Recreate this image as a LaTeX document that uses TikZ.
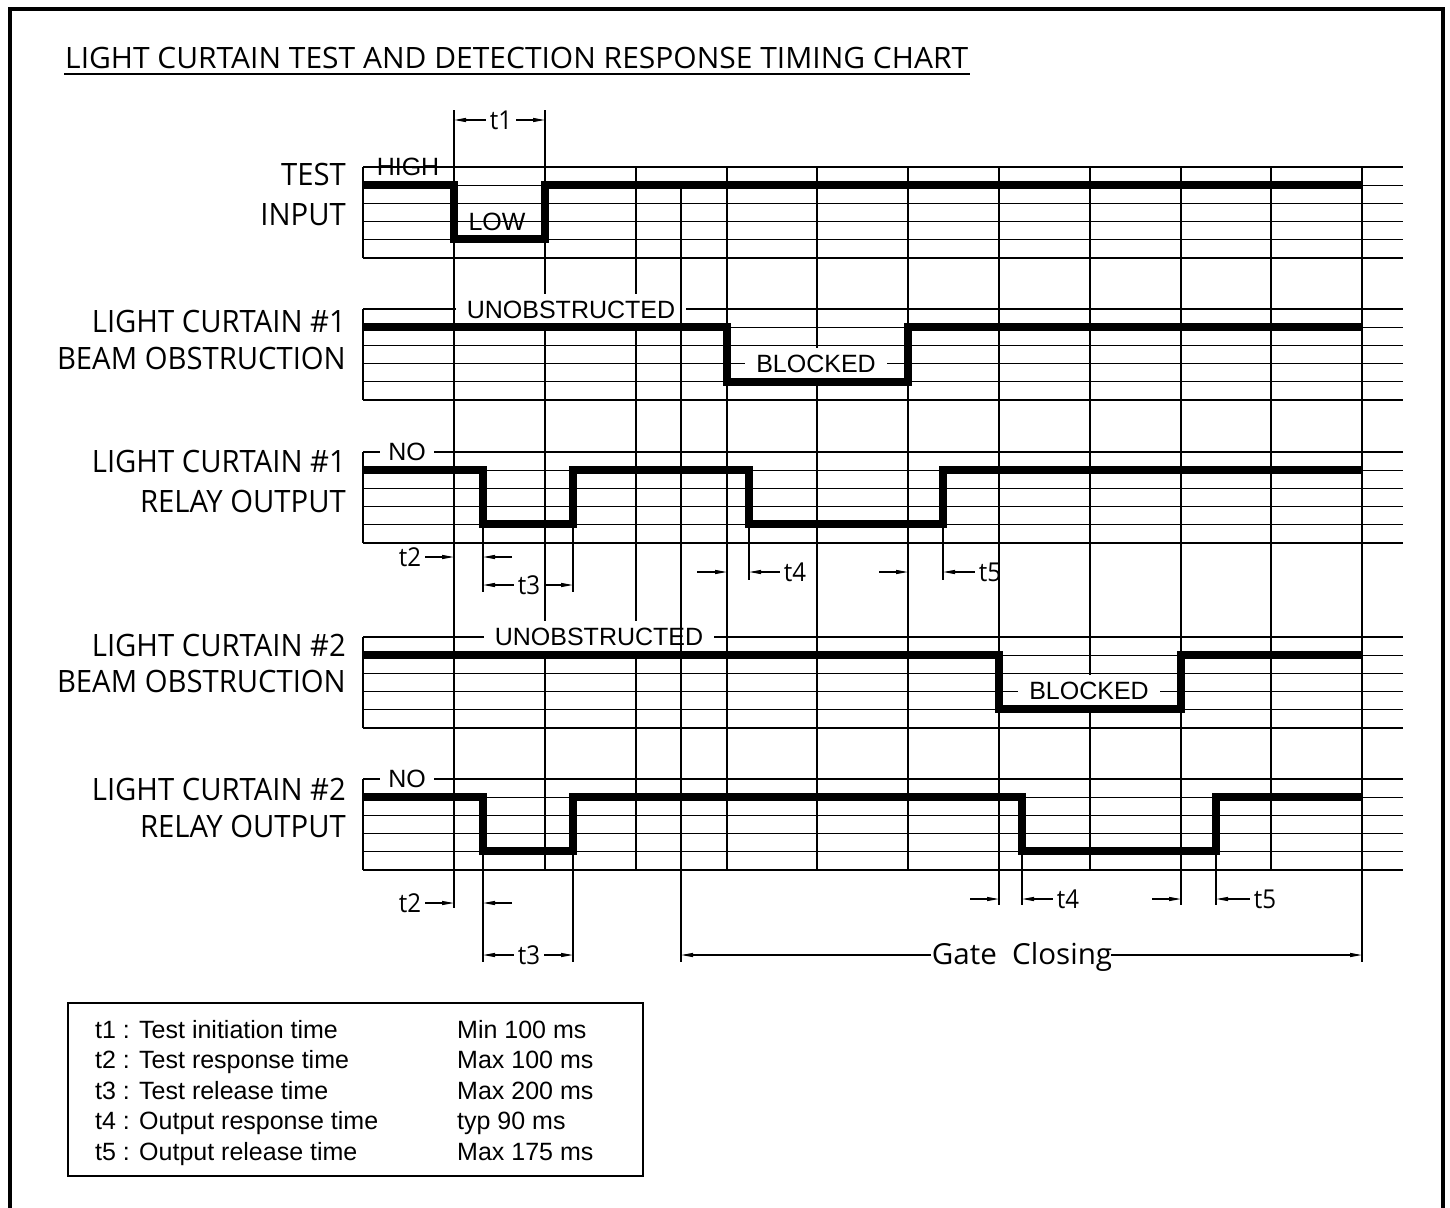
\documentclass[tikz,border=0pt]{standalone}
\usepackage{fontspec}
\setmainfont{Liberation Sans}
\newfontfamily\cadL[FakeStretch=0.95]{Open Sans}
\newfontfamily\cadN[FakeStretch=0.925]{Open Sans}
\newfontfamily\cadT[FakeStretch=1.02]{Open Sans}
\usetikzlibrary{arrows.meta}
\begin{document}
\begin{tikzpicture}[x=1pt,y=-1pt,
  gridl/.style={line width=1.2pt},
  extl/.style={line width=1.3pt},
  wave/.style={line width=7.5pt,line join=miter},
  arr/.style={line width=1.2pt,-{Triangle[length=12pt,width=4pt]}},
  sig/.style={font=\cadL\fontsize{30.8}{36}\selectfont,anchor=base east,inner sep=0pt},
  lev/.style={font=\fontsize{25}{29}\selectfont,inner sep=0pt},
  levbg/.style={lev,fill=white,inner xsep=11pt,inner ysep=7pt},
  tlab/.style={font=\cadN\fontsize{26}{30}\selectfont,inner xsep=4pt,inner ysep=0pt},
  leg/.style={font=\fontsize{25}{30}\selectfont,anchor=base west,inner sep=0pt},
]
\useasboundingbox (0,0) rectangle (1450,1207);

% event columns
\foreach \n in {454,483,545,573,681,727,749,908,943,999,1022,1181,1216,1362}{
  \coordinate (x\n) at (\n,0);
}

% outer frame
\draw[line width=4.5pt] (10,1220) -- (10,9) -- (1443,9) -- (1443,1220);

% title
\node[font=\cadT\fontsize{29.4}{34}\selectfont,anchor=base west,inner sep=0pt] (title) at (65,68) {LIGHT CURTAIN TEST AND DETECTION RESPONSE TIMING CHART};
\coordinate (ulA) at (64,74);
\coordinate (ulB) at (970,74);
\draw[line width=1.5pt] (ulA) -- (ulB);

% grids
\foreach \g in {167,309,452,637,779}{
  \foreach \i in {0,...,5}{
    \draw[gridl] (363,\g+\i*18.2) -- (1403,\g+\i*18.2);
  }
  \draw[gridl] (363,\g) -- (363,\g+91);
}
\foreach \x in {636,727,817,908,1090,1271}{
  \draw[gridl] (\x,167) -- (\x,870);
}
\draw[gridl] (545,110) -- (545,870);
\draw[gridl] (999,167) -- (999,905);
\draw[gridl] (1181,167) -- (1181,905);
\draw[gridl] (1362,167) -- (1362,962);

% signal names
\node[sig] (sTest) at (346,185) {TEST};
\node[sig] (sInput) at (346,225) {INPUT};
\node[sig] (sLC1a) at (346,332) {LIGHT CURTAIN \#1};
\node[sig] (sBeam1) at (346,369) {BEAM OBSTRUCTION};
\node[sig] (sLC1b) at (346,472) {LIGHT CURTAIN \#1};
\node[sig] (sRel1) at (346,512) {RELAY OUTPUT};
\node[sig] (sLC2a) at (346,656) {LIGHT CURTAIN \#2};
\node[sig] (sBeam2) at (346,692) {BEAM OBSTRUCTION};
\node[sig] (sLC2b) at (346,800) {LIGHT CURTAIN \#2};
\node[sig] (sRel2) at (346,837) {RELAY OUTPUT};

% level labels
\node[lev] (high) at (408,167) {HIGH};
\node[lev] (low) at (497,222) {LOW};
\node[levbg] (unob1) at (571,310) {UNOBSTRUCTED};
\node[levbg] (blk1) at (816,364) {BLOCKED};
\node[levbg,inner xsep=8pt] (no1) at (407,452) {NO};
\node[levbg] (unob2) at (599,637) {UNOBSTRUCTED};
\node[levbg] (blk2) at (1089,691) {BLOCKED};
\node[levbg,inner xsep=8pt] (no2) at (407,779) {NO};

% extension lines
\draw[extl] (454,110) -- (454,908);
\draw[extl] (681,185) -- (681,962);
\draw[extl] (483,528) -- (483,592);
\draw[extl] (573,528) -- (573,592);
\draw[extl] (749,528) -- (749,580);
\draw[extl] (943,528) -- (943,580);
\draw[extl] (483,855) -- (483,962);
\draw[extl] (573,855) -- (573,962);
\draw[extl] (1022,855) -- (1022,905);
\draw[extl] (1216,855) -- (1216,905);

% waveforms
\draw[wave] (363,185) -- (454,185) -- (454,239) -- (545,239) -- (545,185) -- (1362,185);
\draw[wave] (363,327) -- (727,327) -- (727,382) -- (908,382) -- (908,327) -- (1362,327);
\draw[wave] (363,470) -- (483,470) -- (483,524) -- (573,524) -- (573,470) -- (749,470) -- (749,524) -- (943,524) -- (943,470) -- (1362,470);
\draw[wave] (363,655) -- (999,655) -- (999,709) -- (1181,709) -- (1181,655) -- (1362,655);
\draw[wave] (363,797) -- (483,797) -- (483,851) -- (573,851) -- (573,797) -- (1022,797) -- (1022,851) -- (1216,851) -- (1216,797) -- (1362,797);

% t1
\node[tlab] (t1) at (501,120) {t1};
\draw[arr] (t1.west) -- (t1.west -| x454);
\draw[arr] (t1.east) -- (t1.east -| x545);

% LC1 timings
\node[tlab] (t2a) at (410,557) {t2};
\draw[arr] (t2a.east) -- (t2a.east -| x454);
\coordinate (t2ea) at (512,557);
\draw[arr] (t2ea) -- (t2ea -| x483);
\node[tlab] (t3a) at (529,585) {t3};
\draw[arr] (t3a.west) -- (t3a.west -| x483);
\draw[arr] (t3a.east) -- (t3a.east -| x573);
\coordinate (t4sa) at (697,572);
\draw[arr] (t4sa) -- (t4sa -| x727);
\node[tlab] (t4a) at (795,572) {t4};
\draw[arr] (t4a.west) -- (t4a.west -| x749);
\coordinate (t5sa) at (879,572);
\draw[arr] (t5sa) -- (t5sa -| x908);
\node[tlab] (t5a) at (990,572) {t5};
\draw[arr] (t5a.west) -- (t5a.west -| x943);

% LC2 timings
\node[tlab] (t2b) at (410,903) {t2};
\draw[arr] (t2b.east) -- (t2b.east -| x454);
\coordinate (t2eb) at (512,903);
\draw[arr] (t2eb) -- (t2eb -| x483);
\node[tlab] (t3b) at (529,955) {t3};
\draw[arr] (t3b.west) -- (t3b.west -| x483);
\draw[arr] (t3b.east) -- (t3b.east -| x573);
\coordinate (t4sb) at (970,899);
\draw[arr] (t4sb) -- (t4sb -| x999);
\node[tlab] (t4b) at (1068,899) {t4};
\draw[arr] (t4b.west) -- (t4b.west -| x1022);
\coordinate (t5sb) at (1152,899);
\draw[arr] (t5sb) -- (t5sb -| x1181);
\node[tlab] (t5b) at (1265,899) {t5};
\draw[arr] (t5b.west) -- (t5b.west -| x1216);

% gate closing
\node[font=\cadT\fontsize{29}{34}\selectfont,anchor=base,inner sep=0pt] (gate) at (1022,964) {Gate\ \ Closing};
\coordinate (gcl) at (931,955);
\coordinate (gcr) at (1111,955);
\draw[arr] (gcl) -- (gcl -| x681);
\draw[arr] (gcr) -- (gcr -| x1362);

% legend
\node[draw,line width=1.5pt,minimum width=575pt,minimum height=173pt,anchor=north west,inner sep=0pt] (legend) at (67,1002) {};
\node[leg] (l1) at (95,1038) {t1 : Test initiation time};
\node[leg] (l2) at (95,1068.5) {t2 : Test response time};
\node[leg] (l3) at (95,1099) {t3 : Test release time};
\node[leg] (l4) at (95,1129.5) {t4 : Output response time};
\node[leg] (l5) at (95,1160) {t5 : Output release time};
\node[leg] (v1) at (457,1038) {Min 100 ms};
\node[leg] (v2) at (457,1068.5) {Max 100 ms};
\node[leg] (v3) at (457,1099) {Max 200 ms};
\node[leg] (v4) at (457,1129.5) {typ 90 ms};
\node[leg] (v5) at (457,1160) {Max 175 ms};
\end{tikzpicture}
\end{document}
